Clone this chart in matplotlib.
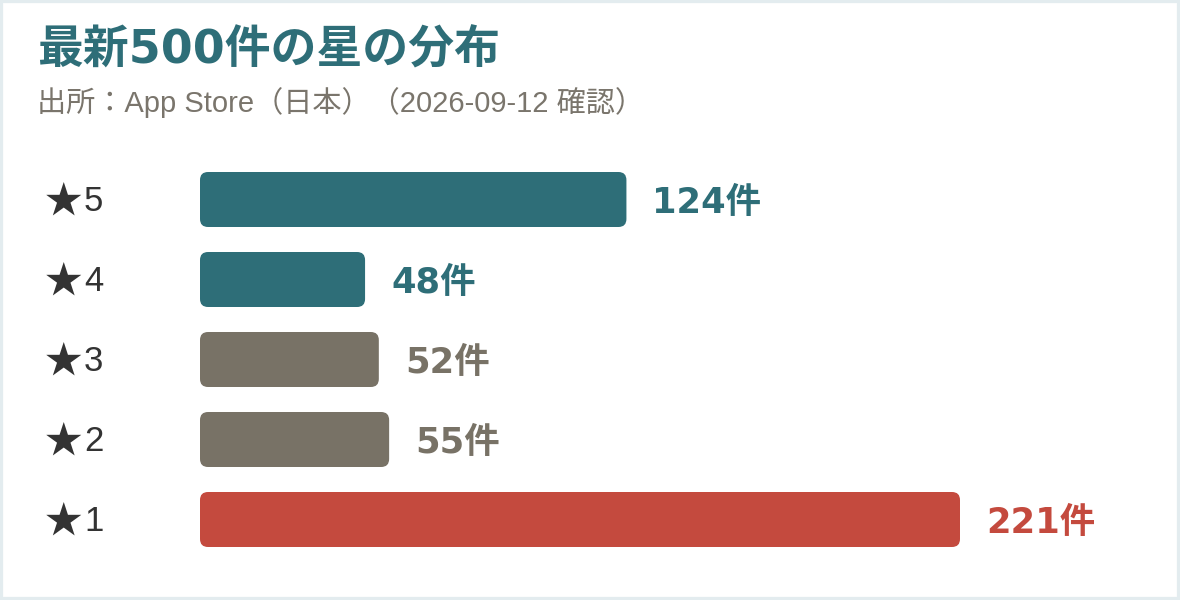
import matplotlib
matplotlib.use("Agg")
import matplotlib.pyplot as plt
import matplotlib.transforms as mtransforms
from matplotlib.patches import FancyBboxPatch, Rectangle

# data
stars = ["5", "4", "3", "2", "1"]
counts = [124, 48, 52, 55, 221]
bar_colors = ["#2e6e78", "#2e6e78", "#787266", "#787266", "#c44a3e"]
title = "最新500件の星の分布"
subtitle = "出所：App Store（日本）（2026-09-12 確認）"

W, H = 1180, 600
fig = plt.figure(figsize=(W / 100, H / 100), dpi=100)
fig.patch.set_facecolor("white")

# bar area: x from 200px to 960px (221 units), rows 80px apart
ax = fig.add_axes([200 / W, (H - 559.5) / H, 760 / W, 400 / H])
ax.set_xlim(0, max(counts))
ax.set_ylim(len(stars) - 0.5, -0.5)
ax.axis("off")

bars = ax.barh(range(len(stars)), counts, height=55 / 80, color=bar_colors)
# swap plain rectangles for rounded ones (radius ~8px)
px_x = max(counts) / 760.0
px_y = 1 / 80.0
for b, c in zip(bars, bar_colors):
    b.set_visible(False)
    r = 8 * px_x
    p = FancyBboxPatch((b.get_x(), b.get_y()), b.get_width(), b.get_height(),
                       boxstyle="round,pad=0,rounding_size={}".format(r),
                       mutation_aspect=px_y / px_x,
                       facecolor=c, edgecolor="none")
    ax.add_patch(p)

label_tr = mtransforms.blended_transform_factory(fig.transFigure, ax.transData)
for i, (s, v, c) in enumerate(zip(stars, counts, bar_colors)):
    ax.text(45 / W, i + 0.05, "★", transform=label_tr, ha="left", va="center",
            fontsize=27, color="#333333",
            family=["Noto Sans CJK JP"], clip_on=False)
    ax.text(84 / W, i + 0.02, s, transform=label_tr, ha="left", va="center",
            fontsize=25, color="#333333",
            family=["Liberation Sans"], clip_on=False)
    ax.annotate("{}件".format(v), xy=(v, i), xytext=(26, -3),
                textcoords="offset pixels", ha="left", va="center",
                fontsize=25.5, fontweight="bold", color=c,
                family=["DejaVu Sans", "Noto Sans CJK JP"], annotation_clip=False)

fig.text(37 / W, 1 - 51 / H, title, ha="left", va="center", fontsize=33,
         fontweight="bold", color="#2e6e78",
         family=["DejaVu Sans", "Noto Sans CJK JP"])
fig.text(37 / W, 1 - 103 / H, subtitle, ha="left", va="center", fontsize=21,
         color="#7a756c", family=["Liberation Sans", "Noto Sans CJK JP"])

fig.patches.append(Rectangle((0, 0), 1, 1, transform=fig.transFigure,
                             fill=False, edgecolor="#e3ecef", linewidth=4.5))

fig.savefig("out.png", dpi=100, facecolor=fig.get_facecolor())
